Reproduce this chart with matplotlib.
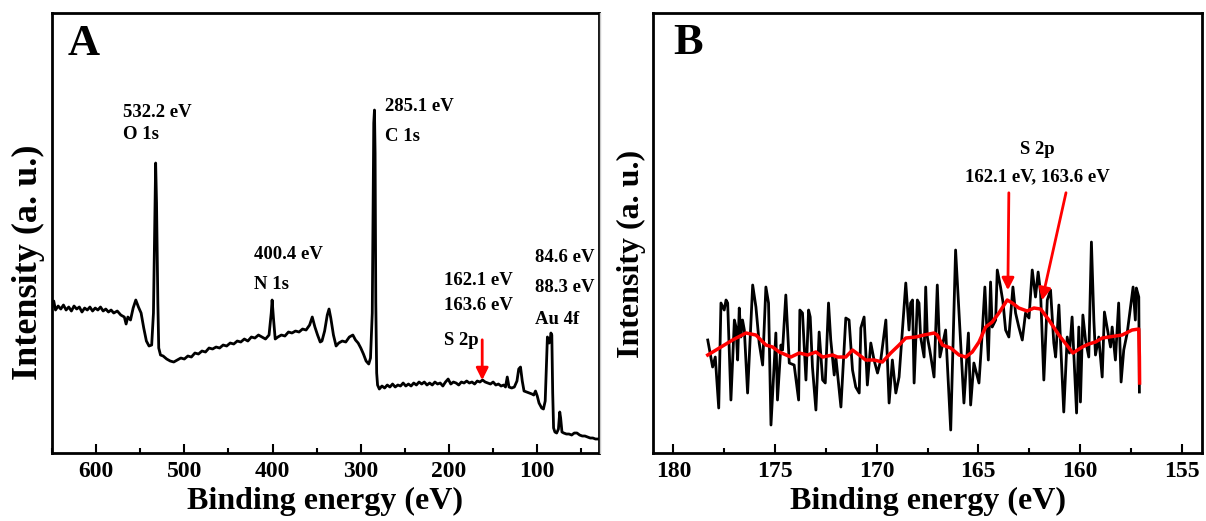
import numpy as np
import matplotlib
matplotlib.use('Agg')
import matplotlib.pyplot as plt
from matplotlib.lines import Line2D
from matplotlib.ticker import MultipleLocator, NullLocator

plt.rcParams['font.family'] = ['Liberation Serif', 'DejaVu Serif']
plt.rcParams['font.weight'] = 'bold'

# ---- panel A: survey spectrum (binding energy, intensity a.u.) ----
survey_be = [650, 648, 646, 643, 640, 637, 634, 631, 628, 625, 622, 619, 616, 613, 610, 607, 604, 601,
             598, 595, 592, 589, 586, 583, 580, 576, 572, 568, 566, 564, 561, 558, 555, 552, 549, 546,
             543, 540, 537, 535, 533.5, 532.5, 531.5, 530, 529, 527, 524, 520, 516, 512, 508, 504, 500,
             496, 492, 488, 484, 480, 476, 472, 468, 464, 460, 456, 452, 448, 444, 440, 436, 432, 428,
             424, 420, 416, 412, 408, 404, 401.5, 400.5, 399, 397, 394, 390, 386, 382, 378, 374, 370,
             366, 362, 358, 355, 352, 349, 346, 344, 341, 338, 336, 334, 331, 328, 325, 321, 317, 313,
             309, 306, 303, 300, 297, 294, 291, 289, 287, 286, 285.3, 284.5, 283.8, 283, 282, 281, 279,
             276, 273, 270, 267, 264, 261, 258, 255, 252, 249, 246, 243, 240, 237, 234, 231, 228, 225,
             222, 219, 216, 213, 210, 207, 204, 201, 198, 195, 192, 189, 186, 183, 180, 177, 174, 171,
             168, 165, 162, 159, 156, 153, 150, 147, 144, 141, 138, 136, 134, 132, 129, 126, 123, 121,
             119, 117, 115, 112, 109, 106, 104, 102, 100, 98, 95, 93, 91, 89.5, 88.5, 87.5, 86.5, 85.5,
             84.5, 83.5, 82.5, 81.5, 80, 78, 76, 74.5, 73.5, 72, 70, 67, 64, 61, 58, 55, 52, 49, 46, 43,
             40, 37, 34, 31, 30]
survey_int = [146, 152, 143, 147, 144, 148, 143, 146, 142, 147, 144, 146, 141, 145, 143, 146, 142, 145,
              143, 146, 142, 144, 141, 143, 140, 142, 138, 136, 129, 136, 133, 145, 153, 146, 140, 125,
              112, 107, 108, 140, 230, 290, 250, 150, 105, 98, 97, 94, 92, 91, 93, 95, 94,
              97, 96, 100, 99, 102, 101, 105, 104, 106, 105, 108, 107, 110, 109, 112, 111, 114, 112,
              116, 115, 118, 116, 114, 118, 140, 153, 135, 114, 116, 118, 117, 121, 120, 122, 121,
              124, 123, 128, 136, 126, 118, 111, 112, 122, 138, 144, 135, 118, 107, 110, 112, 111, 116,
              118, 113, 110, 105, 99, 92, 89, 95, 140, 250, 330, 343, 300, 150, 80, 68, 64,
              67, 65, 68, 66, 69, 66, 68, 67, 70, 67, 69, 67, 70, 68, 71, 69, 71, 68,
              70, 68, 71, 69, 70, 67, 71, 74, 69, 71, 70, 68, 71, 70, 72, 70, 71, 69,
              72, 71, 73, 71, 70, 69, 71, 68, 69, 67, 68, 66, 76, 66, 65, 66, 72, 84,
              86, 72, 62, 61, 60, 59, 58, 62, 57, 50, 45, 44, 52, 90, 116, 114, 110, 112,
              120, 118, 60, 25, 21, 20, 24, 41, 35, 21, 20, 19, 19, 18, 20, 20, 18, 17, 17, 16,
              15, 15, 14, 14, 14]

# ---- panel B: S 2p high-resolution spectrum ----
s2p_be = [178.31, 178.07, 177.94, 177.77, 177.66, 177.50, 177.41, 177.33, 177.17, 177.00, 176.92, 176.84,
          176.76, 176.68, 176.60, 176.51, 176.35, 176.10, 175.94, 175.78, 175.61, 175.45, 175.32, 175.20,
          174.96, 174.88, 174.71, 174.63, 174.47, 174.30, 174.06, 173.84, 173.78, 173.65, 173.48, 173.35,
          173.27, 173.16, 172.99, 172.83, 172.66, 172.53, 172.37, 172.26, 172.09, 172.01, 171.76, 171.52,
          171.36, 171.19, 171.03, 170.86, 170.78, 170.62, 170.46, 170.29, 170.13, 169.96, 169.80, 169.55,
          169.39, 169.23, 169.06, 168.90, 168.57, 168.41, 168.33, 168.24, 168.16, 168.00, 167.92, 167.84,
          167.67, 167.59, 167.51, 167.39, 167.18, 167.02, 166.89, 166.61, 166.36, 166.12, 165.71, 165.49,
          165.38, 165.22, 164.97, 164.81, 164.68, 164.51, 164.40, 164.32, 164.15, 164.07, 163.91, 163.79,
          163.66, 163.50, 163.30, 163.17, 163.01, 162.84, 162.68, 162.51, 162.35, 162.19, 162.06, 161.94,
          161.78, 161.61, 161.45, 161.29, 161.20, 161.04, 160.80, 160.63, 160.52, 160.39, 160.17, 160.06,
          159.98, 159.86, 159.73, 159.57, 159.44, 159.32, 159.24, 159.08, 158.91, 158.80, 158.67, 158.50,
          158.42, 158.26, 158.10, 157.98, 157.85, 157.68, 157.52, 157.39, 157.28, 157.23, 157.11, 157.08]
s2p_int = [113, 86, 96, 45, 150, 143, 153, 150, 53, 133, 126, 93,
           145, 116, 133, 123, 60, 168, 146, 110, 88, 166, 150, 28,
           120, 53, 108, 103, 158, 90, 88, 53, 143, 140, 73, 143,
           136, 86, 43, 121, 73, 70, 150, 113, 78, 96, 46, 135,
           133, 83, 66, 60, 125, 136, 68, 110, 93, 80, 93, 133,
           50, 93, 60, 76, 170, 123, 150, 153, 70, 153, 150, 116,
           96, 166, 116, 103, 76, 168, 96, 123, 23, 203, 50, 120,
           48, 90, 70, 120, 166, 93, 171, 126, 133, 183, 166, 151,
           123, 116, 166, 140, 126, 113, 140, 135, 183, 156, 181, 160,
           73, 153, 163, 110, 96, 148, 41, 116, 100, 136, 40, 126,
           51, 138, 113, 96, 211, 133, 98, 116, 76, 141, 126, 106,
           126, 93, 150, 71, 103, 120, 145, 166, 133, 165, 156, 61]

# smoothed curve
smooth_be = [178.31, 177.74, 177.09, 176.43, 175.94, 175.45, 175.12, 174.79, 174.22, 173.81, 173.40,
             172.99, 172.66, 172.17, 171.93, 171.52, 171.19, 170.86, 170.54, 170.13, 169.72, 169.31,
             168.90, 168.57, 168.08, 167.67, 167.18, 167.02, 166.77, 166.36, 165.95, 165.62, 165.30,
             164.97, 164.64, 164.32, 163.99, 163.58, 163.33, 163.01, 162.60, 162.27, 161.94, 161.53,
             161.04, 160.35, 159.89, 159.57, 159.24, 158.91, 158.59, 157.93, 157.44, 157.11, 157.08, 157.07]
smooth_int = [98, 105, 113, 120, 118, 108, 106, 101, 96, 100, 98,
              101, 96, 98, 96, 96, 103, 98, 93, 93, 91, 100,
              108, 115, 116, 118, 120, 118, 108, 105, 98, 96, 101,
              111, 126, 131, 140, 153, 150, 145, 142, 145, 144, 133,
              118, 100, 106, 109, 111, 115, 116, 118, 123, 124, 96, 70]

fig = plt.figure(figsize=(12.06, 5.21), dpi=100)
axA = fig.add_axes([0.0431, 0.1305, 0.4536, 0.8445])
axB = fig.add_axes([0.5415, 0.1305, 0.4552, 0.8445])

for ax in (axA, axB):
    for s in ax.spines.values():
        s.set_linewidth(2.0)
    ax.yaxis.set_major_locator(NullLocator())
    ax.tick_params(axis='x', which='both', direction='in', top=False, width=1.5,
                   labelsize=17, pad=6)
    ax.tick_params(axis='x', which='major', length=6.5)
    ax.tick_params(axis='x', which='minor', length=3.5)
    ax.set_ylim(0, 440)
    ax.set_xlabel('Binding energy (eV)', fontsize=23, fontweight='bold')

axA.set_ylabel('Intensity (a. u.)', fontsize=26, fontweight='bold')
axB.set_ylabel('Intensity (a. u.)', fontsize=23, fontweight='bold')

# panel A
axA.plot(survey_be, survey_int, color='black', lw=2.0)
axA.set_xlim(650, 30)
axA.xaxis.set_major_locator(MultipleLocator(100))
axA.xaxis.set_minor_locator(MultipleLocator(50))
axA.text(0.029, 0.93, 'A', transform=axA.transAxes, fontsize=32, fontweight='bold',
         ha='left', va='center')
tk = dict(fontsize=13.5, fontweight='bold', ha='left', va='center')
axA.text(569, 341, '532.2 eV', **tk)
axA.text(569, 319, 'O 1s', **tk)
axA.text(273, 347, '285.1 eV', **tk)
axA.text(273, 317, 'C 1s', **tk)
axA.text(421, 199, '400.4 eV', **tk)
axA.text(421, 169, 'N 1s', **tk)
axA.text(206, 173, '162.1 eV', **tk)
axA.text(206, 148, '163.6 eV', **tk)
axA.text(206, 113, 'S 2p', **tk)
axA.text(102, 196, '84.6 eV', **tk)
axA.text(102, 166, '88.3 eV', **tk)
axA.text(102, 134, 'Au 4f', **tk)
axA.annotate('', xy=(162.4, 70), xytext=(162.4, 116),
             arrowprops=dict(arrowstyle='-|>', color='red', lw=2, mutation_scale=18))

# panel B
axB.plot(s2p_be, s2p_int, color='black', lw=2.0)
axB.plot(smooth_be, smooth_int, color='red', lw=2.5)
axB.set_xlim(181, 154)
axB.xaxis.set_major_locator(MultipleLocator(5))
axB.xaxis.set_minor_locator(MultipleLocator(2.5))
axB.text(0.036, 0.932, 'B', transform=axB.transAxes, fontsize=32, fontweight='bold',
         ha='left', va='center')
axB.text(162.1, 304, 'S 2p', fontsize=13.5, fontweight='bold', ha='center', va='center')
axB.text(162.1, 276, '162.1 eV, 163.6 eV', fontsize=13.5, fontweight='bold', ha='center', va='center')
axB.annotate('', xy=(163.55, 160), xytext=(163.5, 263),
             arrowprops=dict(arrowstyle='-|>', color='red', lw=2, mutation_scale=18))
axB.annotate('', xy=(161.9, 150), xytext=(160.66, 263),
             arrowprops=dict(arrowstyle='-|>', color='red', lw=2, mutation_scale=18))

axA.yaxis.set_label_coords(-0.012, 0.434)
axB.yaxis.set_label_coords(-0.013, 0.452)
axA.xaxis.set_label_coords(0.5, -0.076)
axB.xaxis.set_label_coords(0.5, -0.076)

# faint separator between the two panels
fig.add_artist(Line2D([600 / 1206, 600 / 1206], [68 / 521, 508 / 521], color='#c8c8c8', lw=1))

fig.savefig('out.png', dpi=100)
